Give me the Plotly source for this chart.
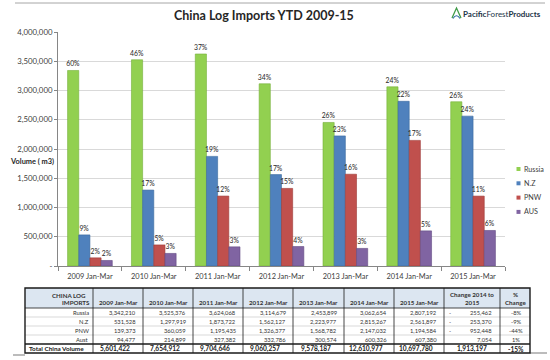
import plotly.graph_objects as go

# ---------------- data ----------------
categories = ["2009 Jan-Mar", "2010 Jan-Mar", "2011 Jan-Mar", "2012 Jan-Mar",
              "2013 Jan-Mar", "2014 Jan-Mar", "2015 Jan-Mar"]
series_names = ["Russia", "N.Z", "PNW", "AUS"]
table_row_labels = ["Russia", "N.Z", "PNW", "Aust"]
russia = [3342210, 3525376, 3624068, 3114679, 2453899, 3062654, 2807192]
nz = [531528, 1297919, 1873722, 1562127, 2223977, 2815267, 2561897]
pnw = [139373, 360059, 1195435, 1326377, 1568782, 2147032, 1194584]
aus = [94477, 214899, 327382, 332786, 300574, 600326, 607380]
total_volume = [5601422, 7654912, 9704646, 9060257, 9578187, 12610977, 10697780]
y_tick_values = [0, 500000, 1000000, 1500000, 2000000, 2500000, 3000000, 3500000, 4000000]
y_tick_labels = ["-", "500,000", "1,000,000", "1,500,000", "2,000,000",
                 "2,500,000", "3,000,000", "3,500,000", "4,000,000"]
series_colors = ["#92D050", "#4F81BD", "#C0504D", "#8064A2"]
series_edges = ["#76B03A", "#3A6A9E", "#9E3A37", "#634C85"]

series_values = [russia, nz, pnw, aus]

W, H = 550, 360
FONT = "Lato"


def px(x):
    return x / W


def py(y):
    return 1 - y / H


fig = go.Figure()

for name, vals, col, edge in zip(series_names, series_values, series_colors, series_edges):
    pct = [f"{round(v / t * 100):d}%" for v, t in zip(vals, total_volume)]
    fig.add_trace(go.Bar(
        x=categories, y=vals, name=name,
        marker=dict(color=col, line=dict(color=edge, width=0.6)),
        text=pct, textposition="outside", cliponaxis=False, constraintext="none",
        textfont=dict(family=FONT, size=6.8, color="#262626"),
        showlegend=False, hoverinfo="x+y+name",
    ))

shapes = []
annotations = []

# title
annotations.append(dict(text="<b>China Log Imports YTD 2009-15</b>", x=px(264), y=py(16),
                        xref="paper", yref="paper", showarrow=False,
                        font=dict(family=FONT, size=12.5, color="#262626"),
                        xanchor="center", yanchor="middle"))
# y axis title
annotations.append(dict(text="<b>Volume ( m3)</b>", x=px(56), y=py(161),
                        xref="paper", yref="paper", showarrow=False,
                        font=dict(family=FONT, size=7.4, color="#262626"),
                        xanchor="right", yanchor="middle"))
# logo
annotations.append(dict(text="<b>Pacific</b>Forest<b>Products</b>", x=px(461), y=py(14),
                        xref="paper", yref="paper", showarrow=False,
                        font=dict(family=FONT, size=8, color="#1E3448"),
                        xanchor="left", yanchor="middle"))
shapes.append(dict(type="path", xref="paper", yref="paper",
                   path=f"M {px(452)} {py(18)} L {px(456.5)} {py(8)} L {px(461)} {py(18)}",
                   line=dict(color="#3E9A47", width=1.3)))
shapes.append(dict(type="path", xref="paper", yref="paper",
                   path=f"M {px(453)} {py(18.5)} Q {px(456.5)} {py(13)} {px(460)} {py(18.5)}",
                   line=dict(color="#2E6DA4", width=1.1)))

# decorative frame lines
shapes.append(dict(type="line", xref="paper", yref="paper", x0=px(15), x1=px(545),
                   y0=py(3), y1=py(3), line=dict(color="#A6A6A6", width=1)))
shapes.append(dict(type="line", xref="paper", yref="paper", x0=px(13), x1=px(25),
                   y0=py(355), y1=py(355), line=dict(color="#A6A6A6", width=1.5)))
shapes.append(dict(type="line", xref="paper", yref="paper", x0=px(530), x1=px(547),
                   y0=py(353), y1=py(353), line=dict(color="#A6A6A6", width=1.5)))

# legend (manual, small squares)
for i, (name, col) in enumerate(zip(series_names, series_colors)):
    yc = 169 + i * 14.3
    shapes.append(dict(type="rect", xref="paper", yref="paper",
                       x0=px(516.5), x1=px(520.5), y0=py(yc - 2), y1=py(yc + 2),
                       fillcolor=col, line=dict(width=0)))
    annotations.append(dict(text=name, x=px(522), y=py(yc), xref="paper", yref="paper",
                            showarrow=False, xanchor="left", yanchor="middle",
                            font=dict(family=FONT, size=7.2, color="#404040")))

# ---------------- table ----------------
col_edges = [25, 93, 143, 193, 243, 293, 344, 394, 444, 500, 530]
row_edges = [288, 308, 317, 326, 335, 344, 353]
t_left, t_right = col_edges[0], col_edges[-1]
t_top, t_bot = row_edges[0], row_edges[-1]

shapes.append(dict(type="rect", xref="paper", yref="paper", x0=px(t_left), x1=px(t_right),
                   y0=py(row_edges[0]), y1=py(row_edges[1]), fillcolor="#DCE6F1",
                   line=dict(width=0), layer="below"))
for ry in row_edges[2:5]:
    shapes.append(dict(type="line", xref="paper", yref="paper", x0=px(t_left), x1=px(t_right),
                       y0=py(ry), y1=py(ry), line=dict(color="#BFBFBF", width=0.6)))
for cx in col_edges[1:-1]:
    shapes.append(dict(type="line", xref="paper", yref="paper", x0=px(cx), x1=px(cx),
                       y0=py(t_top), y1=py(t_bot), line=dict(color="#1A1A1A", width=0.8)))
shapes.append(dict(type="line", xref="paper", yref="paper", x0=px(t_left), x1=px(t_right),
                   y0=py(row_edges[1]), y1=py(row_edges[1]), line=dict(color="#1A1A1A", width=0.8)))
shapes.append(dict(type="line", xref="paper", yref="paper", x0=px(t_left), x1=px(t_right),
                   y0=py(row_edges[5]), y1=py(row_edges[5]), line=dict(color="#1A1A1A", width=1.4)))
shapes.append(dict(type="rect", xref="paper", yref="paper", x0=px(t_left), x1=px(t_right),
                   y0=py(t_top), y1=py(t_bot), line=dict(color="#1A1A1A", width=1.4)))


def tab_text(text, x, y, anchor="right", size=5.8, bold=False, color="#333333"):
    if bold:
        text = f"<b>{text}</b>"
    annotations.append(dict(text=text, x=px(x), y=py(y), xref="paper", yref="paper",
                            showarrow=False, xanchor=anchor, yanchor="middle",
                            font=dict(family=FONT, size=size, color=color)))


# header
tab_text("CHINA LOG", 69, 295.5, anchor="center", size=6.2, bold=True)
tab_text("IMPORTS", 92, 302.5, anchor="right", size=6.2, bold=True)
for j, cat in enumerate(categories):
    c0, c1 = col_edges[j + 1], col_edges[j + 2]
    tab_text(cat, (c0 + c1) / 2, 302.5, anchor="center", size=6.2, bold=True)
tab_text("Change 2014 to", (col_edges[8] + col_edges[9]) / 2, 294.5, anchor="center", size=6.2, bold=True)
tab_text("2015", (col_edges[8] + col_edges[9]) / 2, 302.5, anchor="center", size=6.2, bold=True)
tab_text("%", (col_edges[9] + col_edges[10]) / 2, 294.5, anchor="center", size=6.2, bold=True)
tab_text("Change", (col_edges[9] + col_edges[10]) / 2, 302.5, anchor="center", size=6.2, bold=True)

# data rows
for r, (lab, vals) in enumerate(zip(table_row_labels, series_values)):
    yc = (row_edges[r + 1] + row_edges[r + 2]) / 2
    tab_text(lab, 91, yc, anchor="right")
    for j, v in enumerate(vals):
        tab_text(f"{v:,}", col_edges[j + 2] - 5, yc, anchor="right")
    change = vals[-1] - vals[-2]
    if change < 0:
        tab_text("-", col_edges[8] + 3, yc, anchor="left")
    tab_text(f"{abs(change):,}", col_edges[9] - 6, yc, anchor="right")
    tab_text(f"{round(change / vals[-2] * 100):d}%", (col_edges[9] + col_edges[10]) / 2 + 1, yc,
             anchor="center")

# total row
yc = (row_edges[5] + row_edges[6]) / 2
tab_text("Total China Volume", 27, yc, anchor="left", size=6.4, bold=True, color="#1A1A1A")
for j, v in enumerate(total_volume):
    tab_text(f"{v:,}", (col_edges[j + 1] + col_edges[j + 2]) / 2 - 3, yc, anchor="center",
             size=6.6, bold=True, color="#1A1A1A")
tot_change = total_volume[-1] - total_volume[-2]
tab_text(f"{abs(tot_change):,}", (col_edges[8] + col_edges[9]) / 2, yc, anchor="center",
         size=6.6, bold=True, color="#1A1A1A")
tab_text(f"{round(tot_change / total_volume[-2] * 100):d}%", (col_edges[9] + col_edges[10]) / 2 + 1,
         yc, anchor="center", size=6.6, bold=True, color="#1A1A1A")

fig.update_layout(
    width=W, height=H,
    margin=dict(l=0, r=0, t=0, b=0),
    paper_bgcolor="white", plot_bgcolor="white",
    barmode="group", bargap=0.3, bargroupgap=0,
    font=dict(family=FONT, color="#404040"),
    xaxis=dict(domain=[px(58), px(505)], type="category", tickson="boundaries",
               ticks="outside", ticklen=4, tickcolor="#868686",
               showline=True, linecolor="#868686", linewidth=1, showgrid=False,
               ticklabelstandoff=3,
               tickfont=dict(family=FONT, size=7.4, color="#404040"), automargin=False),
    yaxis=dict(domain=[py(266), py(32)], range=[0, 4000000],
               tickvals=y_tick_values, ticktext=y_tick_labels,
               ticks="outside", ticklen=3, tickcolor="#868686",
               showline=True, linecolor="#868686", linewidth=1,
               showgrid=True, gridcolor="#D9D9D9", gridwidth=1, zeroline=False,
               tickfont=dict(family=FONT, size=7.8, color="#404040"), automargin=False),
    shapes=shapes, annotations=annotations,
)

fig.write_html(
    "out.html",
    config={"displayModeBar": False},
    post_script="document.body.style.margin='0px';document.body.style.overflow='hidden';",
)
